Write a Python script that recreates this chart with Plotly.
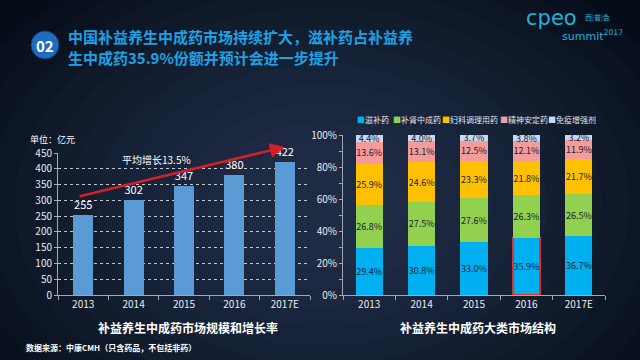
import plotly.graph_objects as go

years = ["2013", "2014", "2015", "2016", "2017E"]
market_size = [255, 302, 347, 380, 422]

series_names = ["滋补药", "补肾中成药", "妇科调理用药", "精神安定药", "免疫增强剂"]
share_tonic = [29.4, 30.8, 33.0, 35.9, 36.7]
share_kidney = [26.8, 27.5, 27.6, 26.3, 26.5]
share_gyn = [25.9, 24.6, 23.3, 21.8, 21.7]
share_mental = [13.6, 13.1, 12.5, 12.1, 11.9]
share_immune = [4.4, 4.0, 3.7, 3.8, 3.2]
series_colors = ["#00b0f0", "#92d050", "#ffc000", "#f49b9b", "#c6d9f1"]

FONT = "Noto Sans CJK SC, sans-serif"
W, H = 640, 360

def px(x):
    return x / W

def py(y):
    return 1 - y / H

fig = go.Figure()

# Left chart
fig.add_trace(go.Bar(
    x=years, y=market_size, xaxis="x", yaxis="y",
    marker=dict(color="#5b9bd5", line=dict(width=0)), width=0.4,
    text=[str(v) for v in market_size], textposition="outside",
    textfont=dict(color="white", size=11, family=FONT),
    cliponaxis=False, showlegend=False,
))

# Right chart
shares = [share_tonic, share_kidney, share_gyn, share_mental, share_immune]
for i, (name, vals, col) in enumerate(zip(series_names, shares, series_colors)):
    line_colors = [col] * len(years)
    line_widths = [0] * len(years)
    if i == 0:
        line_colors[3] = "#e03030"
        line_widths[3] = 1.5
    fig.add_trace(go.Bar(
        x=years, y=vals, name=name, xaxis="x2", yaxis="y2",
        marker=dict(color=col, line=dict(color=line_colors, width=line_widths)),
        width=0.52, showlegend=False,
        text=[f"{v:.1f}%" for v in vals], textposition="inside",
        insidetextanchor="middle", textangle=0, constraintext="none",
        textfont=dict(color="#172030", size=9, family=FONT),
    ))

shapes = []
# soft background glow
n_glow = 12
for k in range(n_glow):
    f = 1 - k / n_glow
    rx, ry = 60 + 330 * f, 45 + 230 * f
    cx, cy = 322, 205
    shapes.append(dict(type="circle", xref="paper", yref="paper", layer="below",
                       x0=px(cx - rx), x1=px(cx + rx), y0=py(cy + ry), y1=py(cy - ry),
                       fillcolor="#5f7fa0", opacity=0.035, line=dict(width=0)))
# number circle
shapes.append(dict(type="circle", xref="paper", yref="paper",
                   x0=px(31), x1=px(59), y0=py(59), y1=py(31),
                   fillcolor="#1f6dc2", line=dict(color="#123a6a", width=1)))


def note(text, x, y, size, color="white", xanchor="left", family=FONT):
    return dict(text=text, x=px(x), y=py(y), xref="paper", yref="paper",
                xanchor=xanchor, yanchor="middle", showarrow=False,
                font=dict(color=color, size=size, family=family))


annotations = []
# manual legend
legend_x = [355, 391, 440, 498, 546]
for name, col, lx in zip(series_names, series_colors, legend_x):
    annotations.append(note(f'<span style="color:{col}">■</span>{name}', lx, 120, 8, "#e0e4ea"))

annotations += [
    note("<b>02</b>", 45, 45, 15, xanchor="center"),
    note("<b>中国补益养生中成药市场持续扩大，滋补药占补益养</b>", 66, 37, 15, "#1ea2e6"),
    note("<b>生中成药35.9%份额并预计会进一步提升</b>", 66, 57, 15, "#1ea2e6"),
    note("cpeo", 524, 18, 21, "#1eb4d8", family="DejaVu Sans"),
    note("西|普|会", 583, 17, 7, "#1eb4d8"),
    note("summit<sup>2017</sup>", 560, 36, 11, "#1eb4d8", family="DejaVu Sans"),
    note("单位：亿元", 28, 140, 9),
    note("<b>补益养生中成药市场规模和增长率</b>", 188, 327, 12, xanchor="center"),
    note("<b>补益养生中成药大类市场结构</b>", 478, 327, 12, xanchor="center"),
    note("<b>数据来源：中康CMH（只含药品，不包括非药）</b>", 24, 347, 8),
    # growth arrow
    dict(x=4.0, y=469, ax=-0.1, ay=312, xref="x", yref="y", axref="x", ayref="y",
         text="", showarrow=True, arrowhead=2, arrowsize=1.2, arrowwidth=2.5, arrowcolor="#d0202a"),
    dict(text="平均增长13.5%", x=1.45, y=429, xref="x", yref="y", showarrow=False,
         xanchor="center", yanchor="middle",
         font=dict(color="white", size=10, family=FONT)),
]

axis_common = dict(color="#d8dde4", automargin=False,
                   tickfont=dict(color="#e8ecf0", size=10, family=FONT))

fig.update_layout(
    template="none",
    width=W, height=H, margin=dict(l=0, r=0, t=0, b=0, autoexpand=False),
    paper_bgcolor="#070d18", plot_bgcolor="rgba(0,0,0,0)",
    barmode="stack", shapes=shapes, annotations=annotations,
    font=dict(family=FONT, color="white"), showlegend=False,
    xaxis=dict(type="category", domain=[px(58), px(310)], anchor="y", range=[-0.5, 4.5],
               showline=True, linecolor="#a0a8b4",
               ticks="outside", tickson="boundaries", ticklen=4, tickcolor="#a0a8b4",
               showgrid=False, zeroline=False, **axis_common),
    yaxis=dict(domain=[py(295), py(153)], anchor="x", range=[0, 450], dtick=50,
               showline=True, linecolor="#a0a8b4", ticks="outside", ticklen=3, tickcolor="#a0a8b4",
               showgrid=True, gridcolor="rgba(255,255,255,0.75)", griddash="dot", gridwidth=1,
               zeroline=False, **axis_common),
    xaxis2=dict(type="category", domain=[px(343), px(605)], anchor="y2", range=[-0.5, 4.5],
                showline=True, linecolor="#a0a8b4",
                ticks="outside", tickson="boundaries", ticklen=4, tickcolor="#a0a8b4",
                showgrid=False, zeroline=False, **axis_common),
    yaxis2=dict(domain=[py(295), py(135)], anchor="x2", range=[0, 100], dtick=20,
                ticksuffix="%", showline=True, linecolor="#a0a8b4", ticks="outside", ticklen=3,
                tickcolor="#a0a8b4", showgrid=False, zeroline=False,
                minor=dict(dtick=10, ticks="outside", ticklen=3, tickcolor="#a0a8b4", showgrid=False),
                **axis_common),
)

fig.write_html("out.html", config={"displayModeBar": False},
               post_script="document.body.style.margin='0';")
